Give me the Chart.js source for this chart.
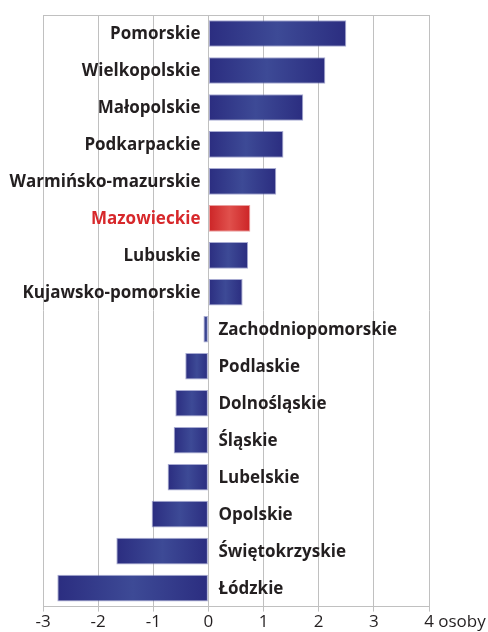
<!DOCTYPE html>
<html>
<head>
<meta charset="utf-8">
<script src="https://cdn.jsdelivr.net/npm/chart.js@4"></script>
<style>
  body { margin: 0; background: #fff; }
  #wrap { width: 488px; height: 632px; }
</style>
</head>
<body>
<div id="wrap"><canvas id="barChart" width="488" height="632"></canvas></div>
<script>
const regions = [
  'Pomorskie', 'Wielkopolskie', 'Małopolskie', 'Podkarpackie', 'Warmińsko-mazurskie',
  'Mazowieckie', 'Lubuskie', 'Kujawsko-pomorskie', 'Zachodniopomorskie', 'Podlaskie',
  'Dolnośląskie', 'Śląskie', 'Lubelskie', 'Opolskie', 'Świętokrzyskie', 'Łódzkie'
];
const values = [
  2.50, 2.12, 1.72, 1.36, 1.23,
  0.76, 0.72, 0.62, -0.09, -0.42,
  -0.60, -0.63, -0.74, -1.03, -1.67, -2.74
];
const highlight = 'Mazowieckie';
const xTicks = [-3, -2, -1, 0, 1, 2, 3, 4];
const unit = 'osoby';

const labelFont = 'bold 17px "Open Sans"';

// gradient across each bar: dark edges, lighter middle
function barFill(ctx) {
  const chart = ctx.chart;
  const xs = chart.scales.x;
  const red = regions[ctx.dataIndex] === highlight;
  if (!xs || ctx.raw === undefined) return red ? '#d32a2a' : '#2e3287';
  const a = xs.getPixelForValue(0);
  const b = xs.getPixelForValue(ctx.raw);
  if (!isFinite(a) || !isFinite(b) || a === b) return red ? '#d32a2a' : '#2e3287';
  const g = chart.ctx.createLinearGradient(Math.min(a, b), 0, Math.max(a, b), 0);
  if (red) {
    g.addColorStop(0, '#cc2426');
    g.addColorStop(0.5, '#e0504c');
    g.addColorStop(1, '#cc2426');
  } else {
    g.addColorStop(0, '#2b2d80');
    g.addColorStop(0.5, '#3d4a96');
    g.addColorStop(1, '#2b2d80');
  }
  return g;
}

const sideLabels = {
  id: 'sideLabels',
  afterDatasetsDraw(chart) {
    const c = chart.ctx;
    const xs = chart.scales.x;
    const ys = chart.scales.y;
    const x0 = xs.getPixelForValue(0);
    c.save();
    c.font = labelFont;
    c.textBaseline = 'middle';
    regions.forEach((name, i) => {
      const y = ys.getPixelForValue(i);
      c.fillStyle = name === highlight ? '#d7282b' : '#231f20';
      if (values[i] >= 0) {
        c.textAlign = 'right';
        c.fillText(name, x0 - 8, y + 1);
      } else {
        c.textAlign = 'left';
        c.fillText(name, x0 + 10, y + 1);
      }
    });
    c.restore();
  },
  afterDraw(chart) {
    const c = chart.ctx;
    const xs = chart.scales.x;
    const area = chart.chartArea;
    c.save();
    // frame line along the top of the plot area
    c.strokeStyle = '#c0c0c0';
    c.lineWidth = 1;
    c.beginPath();
    c.moveTo(area.left, area.top + 0.5);
    c.lineTo(area.right, area.top + 0.5);
    c.stroke();
    // unit after the last tick label
    const last = xTicks[xTicks.length - 1];
    c.font = '17px "Open Sans"';
    c.fillStyle = '#231f20';
    c.textAlign = 'left';
    c.textBaseline = 'middle';
    const xl = xs.getPixelForValue(last) + c.measureText(String(last)).width / 2 + c.measureText(' ').width;
    c.fillText(unit, xl, area.bottom + 5 + 10.5);
    c.restore();
  }
};

const ctx = document.getElementById('barChart').getContext('2d');
new Chart(ctx, {
  type: 'bar',
  data: {
    labels: regions,
    datasets: [{
      data: values,
      backgroundColor: barFill,
      borderColor: c => regions[c.dataIndex] === highlight ? 'rgba(225,120,120,0.7)' : 'rgba(110,115,180,0.6)',
      borderWidth: 1,
      borderSkipped: false,
      categoryPercentage: 1,
      barPercentage: 0.72
    }]
  },
  options: {
    indexAxis: 'y',
    responsive: false,
    animation: false,
    layout: { padding: { left: 43, right: 59, top: 15, bottom: 0 } },
    plugins: {
      legend: { display: false },
      tooltip: { enabled: false }
    },
    scales: {
      x: {
        type: 'linear',
        min: -3,
        max: 4,
        afterBuildTicks: axis => { axis.ticks = xTicks.map(v => ({ value: v })); },
        ticks: {
          font: { family: 'Open Sans', size: 17 },
          color: '#231f20',
          padding: 0,
          maxRotation: 0
        },
        grid: {
          color: '#c0c0c0',
          tickLength: 5,
          drawTicks: true
        },
        border: { color: '#c0c0c0' }
      },
      y: {
        display: false,
        offset: true,
        grid: { display: false }
      }
    }
  },
  plugins: [sideLabels]
});
</script>
</body>
</html>
